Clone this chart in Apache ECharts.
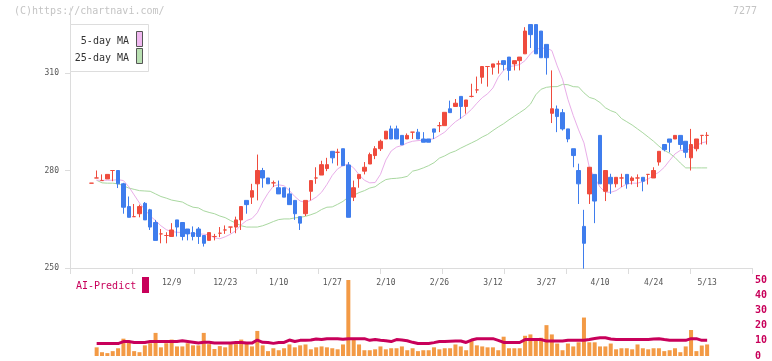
<!DOCTYPE html>
<html><head><meta charset="utf-8">
<script src="https://cdn.jsdelivr.net/npm/echarts@6/dist/echarts.min.js"></script>
<style>html,body{margin:0;padding:0;background:#fff}#c{width:772px;height:361px}</style>
</head><body><div id="c"></div>
<script>
// ---- data ----
const labelDates = ['12/9','12/23','1/10','1/27','2/10','2/26','3/12','3/27','4/10','4/24','5/13'];
const labelIndex = [15,25,35,45,55,65,75,85,95,105,115];
const open  = [276.1,277.7,276.9,277.4,280.0,280.0,275.9,268.9,265.8,266.7,269.9,267.9,264.0,260.5,260.0,259.7,264.8,264.0,262.0,260.9,262.0,260.0,258.5,259.7,260.7,261.7,262.6,262.6,264.8,270.8,271.8,275.9,280.0,277.7,276.2,274.7,274.7,272.8,270.8,265.8,266.7,273.6,277.7,278.6,280.6,285.9,285.6,286.7,281.7,271.8,277.5,279.8,282.0,284.6,286.7,289.7,292.8,292.8,290.8,289.7,291.8,291.8,289.7,289.7,292.8,293.8,293.8,299.0,299.7,302.8,299.7,302.8,304.8,308.7,312.0,311.8,312.8,313.8,314.9,312.8,313.8,315.9,324.9,324.9,322.9,318.8,297.6,298.9,297.8,292.8,286.7,280.0,262.8,272.8,278.8,290.8,273.6,277.9,275.9,277.7,278.8,276.9,277.7,277.9,278.8,277.7,282.6,288.0,289.7,289.7,290.8,289.0,283.9,286.7,290.8,290.8];
const close = [276.1,277.7,276.9,278.8,280.0,275.9,268.7,265.6,265.8,268.9,264.8,262.6,258.5,260.5,260.0,261.7,262.6,259.7,260.5,259.7,259.7,257.6,260.9,259.7,260.7,261.7,262.6,264.8,268.9,269.5,273.8,280.0,277.7,275.9,276.2,272.8,271.8,269.5,266.7,263.8,270.8,276.9,277.7,281.8,281.8,283.9,285.6,281.5,265.6,274.7,278.8,281.0,284.9,286.7,289.0,292.1,289.7,289.7,287.9,290.8,291.8,289.7,288.7,288.7,291.8,293.8,297.9,297.8,300.7,299.7,301.7,302.8,304.8,312.0,312.0,312.8,312.8,312.6,310.8,313.8,314.9,322.9,321.8,315.9,314.7,314.7,299.0,296.6,292.8,289.7,284.6,275.9,257.6,281.0,270.6,275.9,280.0,275.9,277.9,277.7,275.9,277.7,277.7,276.7,278.8,280.0,285.9,286.4,288.7,290.8,288.0,285.6,288.0,289.7,290.8,290.8];
const low   = [276.1,277.7,276.9,277.4,276.7,274.6,266.7,265.6,265.8,265.6,264.8,261.7,258.5,257.6,257.6,259.7,259.7,258.5,258.5,258.5,257.4,256.6,258.5,258.5,259.5,260.5,260.7,260.7,261.7,266.7,269.7,270.8,274.7,275.9,274.9,272.8,271.8,269.5,264.8,261.7,266.0,270.8,275.9,278.6,279.8,282.2,281.5,281.5,265.6,270.6,274.7,278.8,282.0,283.5,286.0,289.7,289.7,289.7,287.9,289.7,289.7,289.7,288.7,288.7,289.7,291.8,293.8,297.8,299.7,295.9,297.5,302.5,303.8,306.7,305.8,309.5,309.8,310.8,307.7,310.8,310.8,315.9,317.7,315.9,314.7,309.5,294.6,291.8,292.3,288.7,281.0,269.7,249.8,269.7,263.8,275.9,270.6,272.8,274.8,274.9,274.4,275.7,274.9,273.6,275.7,277.7,281.5,285.9,285.6,289.7,286.5,283.9,280.0,285.9,288.0,288.0];
const high  = [276.1,280.0,278.8,278.8,280.0,280.0,276.2,272.0,269.7,269.5,270.3,268.2,264.8,262.0,261.0,263.8,264.8,264.0,262.0,262.8,262.6,260.0,260.9,260.5,262.6,263.1,262.6,265.8,268.9,270.8,275.9,284.9,280.8,277.7,276.9,276.9,274.7,274.7,270.8,265.8,270.8,276.9,281.0,283.0,283.9,285.9,286.7,286.7,282.6,276.9,278.8,282.6,285.5,287.5,289.5,292.1,293.8,293.8,290.8,291.4,291.8,292.8,291.8,289.7,292.8,294.9,297.9,301.5,302.0,302.8,301.7,306.7,308.9,312.0,312.0,312.8,313.8,313.8,314.9,313.8,314.9,324.1,324.9,324.9,322.9,318.8,310.8,300.0,298.9,292.8,286.7,282.1,267.9,281.0,278.8,290.8,280.0,279.0,277.9,279.0,278.8,278.2,278.8,277.9,278.8,281.0,285.9,288.0,289.7,290.8,290.8,289.0,292.8,289.7,290.8,291.8];
const ma5   = [null,277.0,277.0,277.0,277.0,277.2,276.9,275.0,272.5,270.0,268.0,266.0,264.6,263.0,261.8,261.2,261.0,260.9,260.8,260.6,260.5,260.4,260.2,259.3,259.0,259.6,260.4,261.5,263.3,264.6,265.2,267.0,270.3,273.0,275.2,275.6,275.3,273.8,272.0,270.6,270.2,270.8,271.8,273.3,275.7,278.5,280.5,281.5,282.0,280.8,278.7,277.0,276.2,276.3,278.8,283.2,286.0,287.2,287.7,288.5,289.0,289.2,289.3,289.5,289.8,290.8,291.8,293.5,295.0,296.1,297.3,298.8,300.7,302.4,303.6,305.4,308.7,310.8,312.0,312.2,312.6,313.8,315.9,317.4,317.6,317.7,316.9,312.2,308.1,301.9,296.9,292.5,288.5,281.0,277.7,274.9,273.3,273.3,273.8,274.9,275.9,276.1,276.1,276.6,277.4,278.5,279.5,281.0,283.1,285.1,286.2,286.2,286.7,287.7,288.5,288.9];
const ma25  = [null,277.0,276.2,276.1,276.1,275.9,275.3,274.6,274.2,273.8,273.7,273.6,272.8,272.0,271.5,270.9,270.6,270.3,269.4,268.7,268.5,267.6,267.1,266.7,266.0,265.5,264.6,263.8,263.0,262.6,262.6,262.6,263.0,263.6,264.3,264.9,265.1,265.1,265.4,265.6,265.9,266.4,267.0,268.0,268.7,268.8,269.6,270.5,271.8,272.4,273.2,273.8,274.6,275.0,276.2,277.2,277.5,277.6,277.8,278.2,279.8,280.2,280.8,281.5,282.4,283.8,284.5,285.4,286.0,286.9,287.7,288.5,289.3,290.3,291.1,292.3,293.4,294.4,295.6,296.7,297.8,298.9,300.4,303.3,305.0,305.6,305.8,305.8,306.5,306.4,305.8,305.7,303.9,302.5,302.0,300.9,299.3,298.4,297.8,296.0,295.0,294.0,292.8,291.6,290.3,289.0,287.5,286.2,285.3,284.0,282.3,280.8,280.8,280.8,280.8,280.8];
const volume = [null,5.7,2.5,1.9,3.2,5.1,11.4,9.9,3.2,2.5,7.0,8.4,15.2,5.7,8.4,10.8,6.3,6.3,8.4,7.0,7.0,15.2,7.8,4.6,6.5,5.7,7.8,7.8,10.8,8.4,6.3,16.5,7.0,3.2,5.1,3.8,5.1,7.6,5.7,7.0,7.6,4.4,5.7,6.3,5.7,5.1,4.4,7.6,50,10.8,7.6,3.8,3.8,4.4,6.3,4.4,5.1,5.1,6.3,3.8,5.1,3.2,3.8,3.8,5.7,4.4,5.1,5.1,7.6,6.3,3.8,10.3,7.0,6.3,5.7,5.7,3.8,12.7,5.1,5.1,5.1,13.3,14.2,11.4,12.0,20.3,14.2,8.2,3.8,8.2,6.3,9.0,25.3,9.0,9.0,6.3,6.3,8.2,4.4,5.1,5.1,4.4,7.6,5.1,4.4,5.1,5.1,3.2,3.8,5.1,2.5,6.3,17.1,3.2,6.9,7.6];
const volMA = [null,8.2,8.2,8.2,8.2,8.2,9.5,9.5,8.9,8.9,8.9,9.5,9.5,9.5,9.5,9.5,9.5,10.0,9.5,9.0,8.5,9.0,9.0,8.5,8.5,8.5,8.5,8.9,8.9,8.5,8.5,10.5,9.0,8.9,8.3,8.9,8.9,10.5,9.5,10.3,10.3,10.5,11.2,10.8,11.4,11.4,11.4,11.0,11.4,11.4,11.4,11.4,10.3,10.8,10.3,10.0,9.5,10.8,10.5,10.0,9.0,8.2,8.2,8.2,8.8,9.5,9.5,9.7,9.9,9.9,8.9,10.5,11.4,11.4,11.4,11.4,10.3,8.9,8.9,8.9,8.9,10.8,10.8,10.8,10.8,9.9,9.9,9.9,9.9,10.3,10.3,10.3,10.3,10.8,11.5,12.0,12.0,11.2,10.8,10.8,10.8,10.8,10.8,10.8,10.8,11.2,11.4,10.8,10.3,10.3,10.3,10.3,11.4,11.4,10.3,10.3];
const priceTicks = [250,280,310];

// ---- layout ----
const GL = 70, GR = 752, X0 = 91.3, STEP = 5.355;
const xMin = -(X0 - GL) / STEP, xMax = xMin + (GR - GL) / STEP;
const xTicks = []; for (let k = 0; k <= 11; k++) xTicks.push(xMin + k * (xMax - xMin) / 11);
const RED = '#ef4b3d', BLUE = '#3f7ded', FONT = 'DejaVu Sans Mono';

const candles = open.map((o, i) => {
  const item = { value: [i, o, close[i], low[i], high[i]] };
  if (o === close[i]) item.itemStyle = { color0: RED, borderColor0: RED };
  return item;
});
const pair = arr => arr.map((v, i) => [i, v]);

const chart = echarts.init(document.getElementById('c'));
chart.setOption({
  animation: false,
  backgroundColor: '#fff',
  grid: [
    { left: GL, right: 772 - GR, top: 8, bottom: 93 },
    { left: GL, right: 772 - GR, top: 280, bottom: 2 }
  ],
  xAxis: [
    { type: 'value', gridIndex: 0, min: xMin, max: xMax,
      axisLine: { onZero: false, lineStyle: { color: '#dcdcdc', width: 1 } },
      axisTick: { customValues: xTicks, length: 6, lineStyle: { color: '#dcdcdc' } },
      axisLabel: { customValues: labelIndex, color: '#555', fontFamily: FONT, fontSize: 8, margin: 11,
        formatter: v => labelDates[labelIndex.indexOf(Math.round(v))] },
      splitLine: { show: false } },
    { type: 'value', gridIndex: 1, min: xMin, max: xMax, show: false }
  ],
  yAxis: [
    { type: 'value', gridIndex: 0, min: 250, max: 330,
      axisLine: { show: true, onZero: false, lineStyle: { color: '#dcdcdc' } },
      axisTick: { show: true, customValues: priceTicks, length: 5, lineStyle: { color: '#dcdcdc' } },
      axisLabel: { customValues: priceTicks, color: '#555', fontFamily: FONT, fontSize: 8, margin: 11 },
      splitLine: { show: false } },
    { type: 'value', gridIndex: 1, position: 'right', min: 0, max: 50, interval: 10,
      axisLine: { show: false, onZero: false }, axisTick: { show: false },
      axisLabel: { color: '#c8005a', fontFamily: FONT, fontSize: 10, fontWeight: 'bold', margin: 3 },
      splitLine: { show: false } }
  ],
  series: [
    { type: 'line', xAxisIndex: 0, yAxisIndex: 0, data: pair(ma25), symbol: 'none',
      lineStyle: { color: '#a9d8a0', width: 1 }, z: 2 },
    { type: 'line', xAxisIndex: 0, yAxisIndex: 0, data: pair(ma5), symbol: 'none',
      lineStyle: { color: '#e9aee9', width: 1 }, z: 2 },
    { type: 'candlestick', xAxisIndex: 0, yAxisIndex: 0, data: candles, barWidth: 4, z: 3,
      itemStyle: { color: RED, color0: BLUE, borderColor: RED, borderColor0: BLUE, borderWidth: 1 } },
    { type: 'bar', xAxisIndex: 1, yAxisIndex: 1, data: pair(volume), barWidth: 4,
      itemStyle: { color: '#f39a45' } },
    { type: 'line', xAxisIndex: 1, yAxisIndex: 1, data: pair(volMA), symbol: 'none',
      lineStyle: { color: '#c8005a', width: 3 } }
  ],
  graphic: [
    { type: 'text', left: 14, top: 6, style: { text: '(C)https://chartnavi.com/', fill: '#c4c4c4', font: '10px ' + FONT } },
    { type: 'text', right: 15, top: 6, style: { text: '7277', fill: '#c4c4c4', font: '10px ' + FONT } },
    { type: 'rect', shape: { x: 70.5, y: 24.5, width: 78, height: 47 }, style: { fill: '#fff', stroke: '#dddddd', lineWidth: 1 }, z: 10 },
    { type: 'text', x: 129, y: 41, style: { text: '5-day MA', fill: '#333', font: '10px ' + FONT, align: 'right', verticalAlign: 'middle' }, z: 11 },
    { type: 'text', x: 129, y: 58, style: { text: '25-day MA', fill: '#333', font: '10px ' + FONT, align: 'right', verticalAlign: 'middle' }, z: 11 },
    { type: 'rect', shape: { x: 136.5, y: 31.5, width: 6, height: 15 }, style: { fill: '#f0b8f0', stroke: '#555', lineWidth: 1 }, z: 11 },
    { type: 'rect', shape: { x: 136.5, y: 48.5, width: 6, height: 15 }, style: { fill: '#b9e0b2', stroke: '#555', lineWidth: 1 }, z: 11 },
    { type: 'text', x: 76, y: 286, style: { text: 'AI-Predict', fill: '#c8005a', font: '10px ' + FONT, verticalAlign: 'middle' }, z: 11 },
    { type: 'rect', shape: { x: 142, y: 277, width: 7, height: 16 }, style: { fill: '#c8005a' }, z: 11 }
  ]
});
</script>
</body></html>
